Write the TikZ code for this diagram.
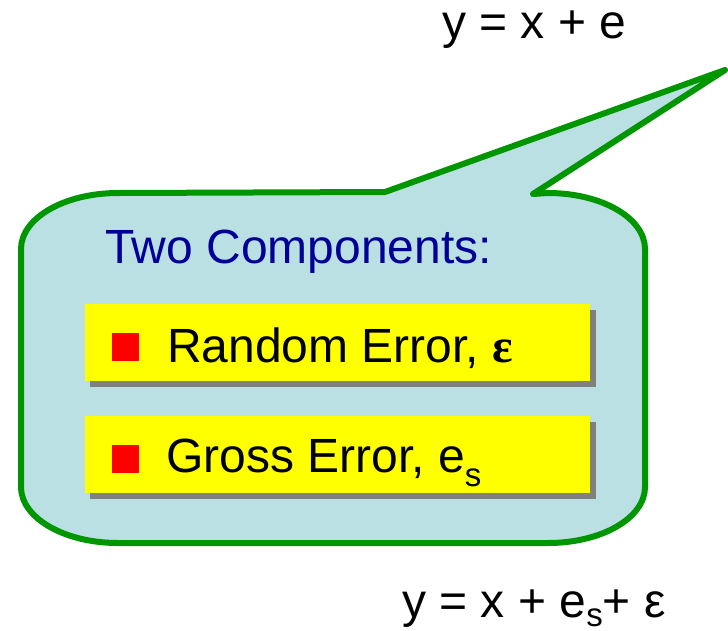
\documentclass[tikz,border=0pt]{standalone}
\usepackage{fontspec}
\setmainfont{Liberation Sans}
\newfontfamily\symfont{Liberation Serif}
\definecolor{calloutfill}{RGB}{186,224,227}
\definecolor{calloutline}{RGB}{0,150,0}
\definecolor{titleblue}{RGB}{0,0,153}
\definecolor{shadowgray}{RGB}{128,128,128}
\definecolor{boxyellow}{RGB}{255,255,0}
\begin{document}
\begin{tikzpicture}[x=1pt,y=-1pt,
  bigtext/.style={font=\fontsize{48}{56}\selectfont, inner sep=0pt, anchor=base west},
  itembox/.style={fill=boxyellow, draw=none},
  itemshadow/.style={fill=shadowgray, draw=none},
  bulletsq/.style={fill=red, draw=none}]
\useasboundingbox (0,0) rectangle (728,630);
% callout
\draw[line width=6pt, draw=calloutline, fill=calloutfill, line join=round]
  (118,193) -- (385,192) -- (725,70) -- (533,194) -- (548,193)
  .. controls (601.6,193) and (645,218) .. (645,249) -- (645,487)
  .. controls (645,518) and (601.6,543) .. (548,543) -- (118,543)
  .. controls (64.4,543) and (21,518) .. (21,487) -- (21,249)
  .. controls (21,218) and (64.4,193) .. (118,193) -- cycle;
% title
\node[bigtext, text=titleblue] (title) at (105,263) {Two Components:};
% item boxes
\fill[itemshadow] (90,310) rectangle (596,387);
\fill[itembox] (85,304) rectangle (590,381);
\fill[bulletsq] (112,333) rectangle (139,361);
\node[bigtext] (random) at (167,362) {Random Error, {\symfont\bfseries ε}};
\fill[itemshadow] (90,422) rectangle (596,499);
\fill[itembox] (85,416) rectangle (590,493);
\fill[bulletsq] (112,445) rectangle (139,473);
\node[bigtext] (gross) at (166,472) {Gross Error, e\raisebox{-14pt}{\fontsize{33}{33}\selectfont s}};
% equations
\node[bigtext] (eqtop) at (442,38) {y = x + e};
\node[bigtext] (eqbot) at (402,617) {y = x + e\raisebox{-9pt}{\fontsize{33}{33}\selectfont s}+ ε};
\end{tikzpicture}
\end{document}
